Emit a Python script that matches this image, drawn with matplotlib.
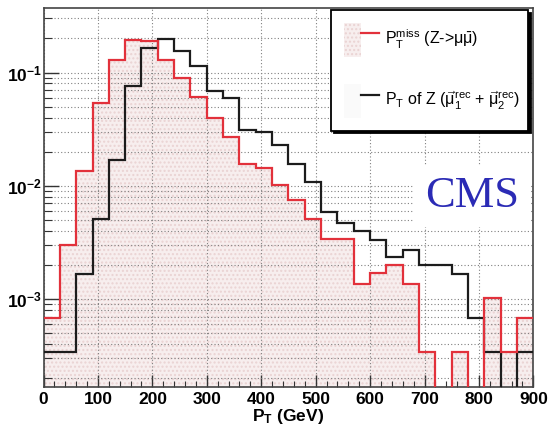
import matplotlib
matplotlib.use("Agg")
import matplotlib.pyplot as plt
import numpy as np
from matplotlib.patches import Patch
from matplotlib.lines import Line2D
from matplotlib.legend_handler import HandlerTuple
from matplotlib.ticker import LogLocator, MultipleLocator, FixedLocator, NullFormatter

plt.rcParams['font.family'] = ['Liberation Sans', 'DejaVu Sans']
plt.rcParams['mathtext.fontset'] = 'custom'
plt.rcParams['mathtext.rm'] = 'Liberation Sans'
plt.rcParams['mathtext.it'] = 'Liberation Sans:italic'
plt.rcParams['mathtext.bf'] = 'Liberation Sans:bold'

# bin edges 0..900 GeV, 30 GeV wide
edges = np.arange(0, 901, 30)

# normalised missing pT (Z->mumu)
met = [6.8e-4, 3.0e-3, 0.0134, 0.054, 0.128, 0.195, 0.19, 0.13, 0.089, 0.061,
       0.040, 0.027, 0.0156, 0.0143, 0.0102, 7.5e-3, 5.1e-3, 3.4e-3, 3.4e-3, 1.36e-3,
       1.7e-3, 2.0e-3, 1.36e-3, 3.4e-4, 0.0, 3.4e-4, 0.0, 1.02e-3, 3.4e-4, 6.8e-4]

# pT of reconstructed Z (mu1 + mu2)
zpt = [3.4e-4, 3.4e-4, 1.67e-3, 5.1e-3, 0.017, 0.076, 0.166, 0.197, 0.155, 0.115,
       0.069, 0.060, 0.031, 0.030, 0.023, 0.0156, 0.0108, 5.9e-3, 4.7e-3, 4.0e-3,
       3.3e-3, 2.35e-3, 2.7e-3, 2.0e-3, 2.0e-3, 1.67e-3, 6.8e-4, 3.4e-4, 0.0, 3.4e-4]

decade_labels = [r'$\mathbf{10^{-3}}$', r'$\mathbf{10^{-2}}$', r'$\mathbf{10^{-1}}$']

red = '#e2313b'
pink = '#f7eeee'
hatch_col = '#ead3d3'

fig = plt.figure(figsize=(5.51, 4.28), dpi=100)
ax = fig.add_axes([0.079, 0.096, 0.889, 0.885])
ax.set_yscale('log')

floor = 1e-6  # empty bins drop to the bottom of the frame
met_p = np.where(np.array(met) > 0, met, floor)
zpt_p = np.where(np.array(zpt) > 0, zpt, floor)

ax.stairs(met_p, edges, baseline=floor, fill=True, facecolor=pink,
          edgecolor=hatch_col, hatch='....', linewidth=0, zorder=1)
ax.stairs(zpt_p, edges, baseline=None, color='#1c1c1c', linewidth=1.6, zorder=3)
ax.stairs(met_p, edges, baseline=None, color=red, linewidth=1.6, zorder=4)

ax.set_xlim(0, 900)
ax.set_ylim(1.68e-4, 0.37)

ax.xaxis.set_major_locator(MultipleLocator(100))
ax.xaxis.set_minor_locator(MultipleLocator(20))
ax.yaxis.set_major_locator(FixedLocator([1e-3, 1e-2, 1e-1]))
ax.yaxis.set_minor_locator(LogLocator(base=10, subs=np.arange(2, 10)))
ax.yaxis.set_minor_formatter(NullFormatter())
ax.set_yticklabels(decade_labels)
for lab in ax.get_xticklabels():
    lab.set_fontweight('bold')

ax.tick_params(axis='both', which='both', direction='in', color='#333333',
               labelsize=12.5, top=False, right=False)
ax.tick_params(axis='x', which='major', length=9, width=1.0, pad=4)
ax.tick_params(axis='x', which='minor', length=4, width=0.8)
ax.tick_params(axis='y', which='major', length=11, width=1.0, pad=1)
ax.tick_params(axis='y', which='minor', length=6, width=0.8)

ax.set_axisbelow('line')
ax.grid(True, axis='x', which='major', linestyle=(0, (1, 2)), color='#808080', linewidth=0.8)
ax.grid(True, axis='y', which='both', linestyle=(0, (1, 2)), color='#808080', linewidth=0.8)

for s in ax.spines.values():
    s.set_color('#444444')
    s.set_linewidth(1.2)

ax.set_xlabel(r'P$_\mathbf{T}$ (GeV)', fontsize=12.5, fontweight='bold', labelpad=0)

h1 = (Patch(facecolor=pink, edgecolor=hatch_col, hatch='....', linewidth=0),
      Line2D([], [], color=red, linewidth=1.6))
h2 = (Patch(facecolor='#fafafa', edgecolor='none'),
      Line2D([], [], color='#1c1c1c', linewidth=1.6))
leg = fig.legend([h1, h2],
                 [r'P$_\mathrm{T}^\mathrm{miss}$ (Z->$\mathrm{\mu}\bar{\mathrm{\mu}}$)',
                  r'P$_\mathrm{T}$ of Z ($\vec{\mathrm{\mu}}_1^\mathrm{rec}$ + $\vec{\mathrm{\mu}}_2^\mathrm{rec}$)'],
                 handler_map={tuple: HandlerTuple(ndivide=None, pad=0)},
                 loc='upper left', bbox_to_anchor=(0.601, 0.977, 0.357, 0.0),
                 mode='expand', borderaxespad=0, fontsize=11.5,
                 handlelength=2.2, handleheight=2.9, labelspacing=1.7,
                 borderpad=0.8, handletextpad=0.4,
                 fancybox=False, framealpha=1, edgecolor='black',
                 shadow={'color': 'black', 'alpha': 1})
leg.get_frame().set_linewidth(1.3)

fig.text(0.857, 0.542, 'CMS', fontsize=32, family='Liberation Serif',
         color='#2b2bb5', ha='center', va='center',
         bbox=dict(facecolor='white', edgecolor='none', pad=8))

fig.savefig('out.png', dpi=100)
